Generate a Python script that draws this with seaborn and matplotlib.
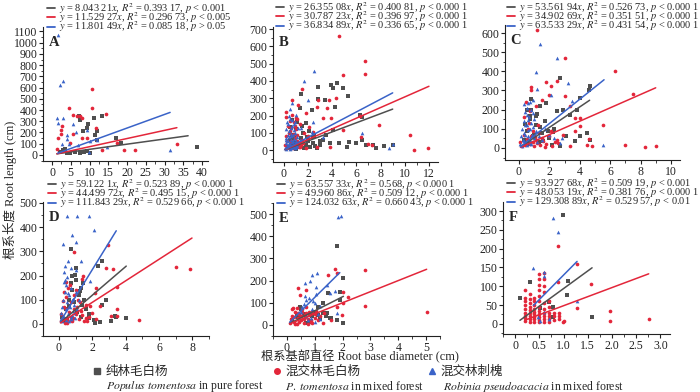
import matplotlib
matplotlib.use("Agg")
import matplotlib.pyplot as plt
from matplotlib.lines import Line2D
from matplotlib.ticker import MultipleLocator, AutoMinorLocator
import seaborn as sns

sns.set_theme(style="ticks")
plt.rcParams['font.family'] = ['Liberation Serif', 'Noto Sans CJK SC']
plt.rcParams['mathtext.fontset'] = 'stix'
plt.rcParams['axes.unicode_minus'] = False

GRAY = '#4f4f4f'
RED = '#e3263a'
BLUE = '#3a63c8'

# ---------------- 数据 ----------------
# A
a_gray_x = [13.4, 11.2, 9.5, 9.2, 8.3, 7.2, 7.5, 3.5, 3.0, 3.9, 4.8, 6.2, 7.5, 9.4, 11.5, 17.0, 18.3, 38.6, 11.9, 12.0, 2.1, 8.4, 10.0]
a_gray_y = [350, 330, 280, 240, 210, 345, 315, 55, 45, 15, 20, 25, 18, 36, 180, 150, 105, 70, 210, 135, 30, 30, 15]
a_red_x = [10.6, 10.6, 4.4, 5.5, 6.6, 8.0, 2.7, 2.4, 2.4, 1.7, 1.4, 4.8, 5.7, 8.1, 9.2, 11.6, 14.3, 13.2, 17.2, 19.2, 22.0, 33.3, 7.5]
a_red_y = [585, 420, 415, 355, 345, 330, 260, 220, 190, 155, 50, 105, 190, 150, 155, 240, 365, 45, 110, 40, 40, 100, 345]
a_blue_x = [1.7, 2.0, 3.0, 1.4, 1.7, 3.0, 3.9, 3.9, 4.4, 5.5, 6.4, 6.9, 9.4, 9.9, 10.1, 14.6, 31.5, 2.7, 11.9]
a_blue_y = [1070, 620, 660, 330, 285, 330, 180, 140, 96, 280, 200, 90, 225, 30, 120, 75, 45, 100, 130]

# B
b_gray_x = [4.4, 3.9, 4.1, 4.9, 2.8, 1.4, 2.8, 3.4, 5.3, 2.3, 1.3, 4.2, 6.3, 6.5, 6.0, 6.5, 7.4, 7.6, 8.3, 9.0, 5.4, 4.6,
            3.8, 3.2, 2.4, 5.2, 4.1, 3.5, 0.5, 0.7, 1.8, 3.0, 6.8,
            0.3, 0.5, 0.7, 0.9, 1.0, 1.2, 1.4, 1.6, 1.8, 2.0, 2.2, 2.5, 2.7, 3.0, 1.1, 1.3, 1.5, 1.7, 1.9, 2.1, 2.4, 2.6, 0.8, 0.6, 1.0]
b_gray_y = [387, 377, 358, 358, 364, 323, 296, 290, 315, 232, 242, 251, 203, 193, 39, 58, 29, 10, 25, 29, 48, 39,
            39, 58, 77, 19, 116, 87, 135, 174, 155, 29, 29,
            20, 60, 90, 40, 120, 15, 70, 100, 30, 55, 20, 80, 10, 50, 160, 35, 140, 10, 75, 110, 40, 25, 70, 30, 5]
b_red_x = [4.6, 6.7, 6.7, 4.9, 1.5, 2.8, 4.3, 3.7, 3.6, 2.7, 0.2, 6.3, 7.9, 4.9, 6.4, 10.4, 10.8, 11.9, 7.0, 7.3, 3.9, 3.2,
           1.8, 2.4, 0.7, 1.0, 1.2, 3.8, 2.7, 2.1, 1.7,
           0.1, 0.2, 0.3, 0.35, 0.4, 0.5, 0.55, 0.6, 0.7, 0.75, 0.8, 0.9, 1.0, 1.1, 1.2, 1.3, 1.4, 1.5, 0.25, 0.45, 0.65,
           0.85, 1.05, 1.25, 0.15, 0.6, 0.95, 1.35, 0.5, 0.8, 1.1, 1.6, 1.8, 2.0]
b_red_y = [658, 518, 441, 437, 356, 290, 300, 290, 242, 248, 222, 197, 143, 116, 73, 87, 0, 14, 33, 29, 184, 184,
           213, 106, 290, 184, 261, 19, 19, 135, 97,
           30, 80, 140, 20, 100, 170, 50, 130, 205, 10, 160, 70, 120, 90, 40, 150, 30, 60, 55, 10, 85,
           25, 180, 15, 190, 45, 140, 20, 110, 95, 55, 40, 10, 80]
b_blue_x = [2.5, 1.7, 2.0, 0.7, 0.5, 1.0, 2.4, 6.5, 8.7, 9.0, 2.3, 3.2, 1.8, 0.2, 1.4, 0.9,
            0.1, 0.15, 0.2, 0.2, 0.25, 0.3, 0.3, 0.35, 0.4, 0.4, 0.45, 0.5, 0.5, 0.55, 0.6, 0.6, 0.65, 0.7, 0.7, 0.75,
            0.8, 0.8, 0.85, 0.9, 0.95, 1.0, 1.05, 1.1, 1.2, 1.3, 0.2, 0.3, 0.4, 0.5, 0.6, 0.7, 0.8, 0.9, 1.0, 0.25,
            0.45, 0.65, 0.85, 1.15, 0.35, 0.55, 0.75]
b_blue_y = [458, 400, 290, 271, 236, 203, 160, 97, 14, 35, 106, 77, 58, 58, 126, 164,
            10, 40, 70, 120, 25, 90, 150, 55, 15, 110, 75, 35, 180, 130, 60, 95, 20, 140, 45, 85,
            30, 115, 65, 10, 100, 50, 75, 25, 40, 60, 5, 20, 35, 5, 10, 25, 15, 35, 20, 160,
            195, 175, 150, 130, 30, 80, 50]

# C
c_gray_x = [2.7, 4.7, 4.6, 4.05, 3.8, 3.35, 2.9, 2.5, 1.8, 1.37, 1.15, 4.05, 4.7, 3.1, 3.7, 2.7, 4.45, 2.25, 0.7, 0.5,
            0.3, 0.5, 0.7, 0.9, 1.1, 1.3, 1.5, 1.7, 2.0, 2.3, 0.6, 0.8, 1.0, 1.2, 1.4, 1.6, 1.9, 2.2, 0.4, 0.8]
c_gray_y = [365, 325, 304, 261, 200, 174, 200, 191, 235, 217, 165, 61, 43, 61, 35, 9, 78, 82, 165, 200,
            40, 90, 150, 60, 120, 30, 80, 140, 50, 100, 20, 200, 70, 175, 110, 35, 90, 15, 125, 255]
c_red_x = [1.19, 3.0, 6.3, 7.5, 2.5, 1.76, 0.77, 0.77, 2.1, 2.0, 1.5, 1.1, 3.0, 3.35, 3.7, 4.05, 4.0, 5.5, 3.7, 2.9,
           2.5, 3.35, 4.45, 4.8, 8.3, 9.0, 7.0, 4.6,
           0.1, 0.2, 0.3, 0.4, 0.5, 0.6, 0.7, 0.8, 0.9, 1.0, 1.1, 1.2, 1.3, 1.4, 1.5, 1.6, 1.8, 2.0, 2.2, 2.4,
           0.35, 0.65, 0.95, 1.25, 1.7, 2.1, 2.6, 0.45, 0.75, 1.05]
c_red_y = [618, 470, 400, 282, 348, 343, 318, 301, 325, 278, 252, 217, 270, 217, 157, 157, 113, 118, 87, 70,
           43, 9, 17, 9, 5, 9, 14, 47,
           30, 10, 70, 15, 45, 100, 20, 60, 30, 10, 40, 25, 80, 15, 50, 35, 20, 60, 10, 30,
           160, 130, 90, 120, 5, 90, 25, 240, 195, 55]
c_blue_x = [1.37, 2.5, 1.1, 1.2, 3.2, 2.1, 3.5, 5.5, 2.8, 2.7, 0.9, 0.6,
            0.1, 0.15, 0.2, 0.25, 0.3, 0.35, 0.4, 0.45, 0.5, 0.55, 0.6, 0.65, 0.7, 0.75, 0.8, 0.85, 0.9, 1.0, 1.1,
            1.2, 0.2, 0.3, 0.4, 0.5, 0.6, 0.7, 0.8, 0.9, 0.3, 0.5, 0.7, 0.4, 0.6, 0.8, 1.0, 1.3, 1.5, 1.7, 2.0, 2.3]
c_blue_y = [544, 470, 395, 308, 339, 277, 247, 14, 52, 26, 252, 235,
            20, 60, 100, 40, 140, 80, 190, 30, 120, 210, 60, 160, 100, 40, 130, 70, 180, 50, 90,
            30, 10, 35, 65, 15, 95, 25, 200, 110, 230, 170, 240, 120, 145, 20, 150, 60, 40, 100, 70, 50]

# D
d_gray_x = [0.7, 2.6, 2.35, 0.95, 1.45, 2.6, 4.04, 3.35, 2.45, 2.1, 1.25, 2.85, 2.15, 3.1, 3.4, 1.8,
            0.2, 0.4, 0.6, 0.8, 1.0, 1.2, 1.4, 1.6, 1.8, 0.5, 0.7, 0.9, 1.1, 1.3, 1.5, 0.3, 0.8, 1.0, 1.3, 0.6]
d_gray_y = [310, 262, 238, 204, 169, 79, 25, 32, 7, 18, 135, 100, 3, 10, 28, 23,
            30, 60, 100, 140, 180, 120, 80, 60, 40, 20, 170, 90, 50, 150, 100, 10, 200, 230, 30, 75]
d_red_x = [2.95, 0.9, 7.0, 7.86, 3.24, 2.85, 1.4, 3.5, 2.25, 3.5, 3.5, 3.1, 4.8, 1.65, 2.45, 1.85, 2.15, 1.45,
           0.1, 0.15, 0.2, 0.3, 0.35, 0.4, 0.5, 0.55, 0.6, 0.7, 0.75, 0.8, 0.9, 1.0, 1.1, 1.2, 1.3, 1.4, 1.5,
           1.6, 1.8, 2.0, 0.25, 0.45, 0.65, 0.85, 1.05, 1.25, 0.3, 0.5, 0.7, 0.9, 1.15, 1.7, 2.2, 0.4]
d_red_y = [328, 296, 236, 229, 229, 230, 186, 152, 149, 60, 32, 34, 15, 25, 73, 73, 128, 197,
           10, 40, 20, 70, 5, 110, 15, 150, 50, 30, 90, 10, 120, 40, 70, 20, 55, 35, 10,
           80, 30, 45, 95, 60, 160, 25, 140, 90, 130, 5, 15, 60, 100, 10, 20, 175]
d_blue_x = [0.46, 1.1, 1.8, 2.1, 0.8, 1.0, 0.26, 1.35, 0.3, 0.36, 1.05, 1.85, 0.56, 0.86,
            0.1, 0.15, 0.2, 0.25, 0.3, 0.35, 0.4, 0.45, 0.5, 0.55, 0.6, 0.65, 0.7, 0.75, 0.8, 0.85, 0.9, 0.95,
            1.0, 1.1, 0.2, 0.3, 0.4, 0.5, 0.6, 0.7, 0.8, 0.9, 0.35, 0.55, 0.75, 1.2]
d_blue_y = [445, 445, 448, 390, 369, 339, 332, 259, 213, 183, 222, 176, 128, 103,
            20, 45, 70, 100, 30, 130, 60, 160, 90, 40, 120, 70, 150, 30, 100, 55, 80, 25,
            130, 60, 10, 175, 15, 195, 10, 20, 35, 45, 240, 260, 230, 100]

# E
e_gray_x = [1.81, 2.03, 1.49, 1.31, 1.9, 1.43, 1.55, 2.03, 1.13, 0.89, 0.47, 0.35, 1.9,
            0.2, 0.4, 0.6, 0.8, 1.0, 1.2, 1.4, 0.5, 0.7, 0.9, 1.1, 1.3, 1.6, 1.8]
e_gray_y = [357, 211, 143, 98, 113, 53, 30, 8, 45, 38, 83, 45, 150,
            20, 35, 50, 15, 60, 25, 40, 70, 10, 45, 80, 55, 30, 20]
e_red_x = [2.8, 2.8, 5.02, 1.73, 1.49, 1.81, 0.41, 0.47, 0.7, 2.2, 2.03, 2.03, 1.97, 1.6, 1.34, 1.79, 0.23,
           0.1, 0.15, 0.2, 0.25, 0.3, 0.35, 0.4, 0.45, 0.5, 0.55, 0.6, 0.65, 0.7, 0.75, 0.8, 0.85, 0.9, 1.0,
           1.1, 1.2, 1.3, 0.2, 0.3, 0.4, 0.5, 0.6, 0.7, 0.8, 0.9, 1.0, 0.25, 0.45, 0.65, 0.85, 1.05, 0.35, 0.55, 0.75]
e_red_y = [248, 86, 60, 251, 226, 233, 166, 136, 158, 125, 150, 98, 45, 23, 53, 83, 75,
           10, 25, 40, 15, 60, 5, 30, 50, 20, 70, 10, 35, 55, 25, 45, 15, 60, 30,
           20, 40, 10, 70, 5, 55, 40, 25, 80, 60, 10, 50, 35, 15, 45, 20, 65, 75, 60, 5]
e_blue_x = [1.85, 1.93, 1.07, 0.89, 0.83, 0.65, 1.03, 1.43, 1.73, 0.7, 0.53, 1.55, 1.79, 1.19, 1.0,
            0.5, 0.6, 0.7, 0.8, 0.9, 1.0, 1.1, 1.2, 0.65, 0.85, 1.05, 0.75, 0.95]
e_blue_y = [486, 492, 233, 226, 200, 188, 170, 181, 155, 113, 83, 143, 56, 26, 15,
            60, 95, 40, 120, 70, 100, 50, 85, 130, 30, 140, 20, 110]

# F
f_gray_x = [0.98, 0.3, 0.1, 1.09, 1.07, 1.59, 0.69, 0.78, 0.52, 0.79]
f_gray_y = [289, 110, 69, 113, 76, 19, 59, 17, 41, 46]
f_red_x = [0.88, 1.28, 1.57, 1.28, 0.98, 1.97, 1.97, 2.76, 0.88,
           0.2, 0.2, 0.2, 0.2, 0.2, 0.2, 0.2, 0.2, 0.2,
           0.3, 0.3, 0.3, 0.3, 0.3, 0.3, 0.3, 0.3, 0.3,
           0.4, 0.4, 0.4, 0.4, 0.4, 0.4, 0.4, 0.4, 0.4,
           0.5, 0.5, 0.5, 0.5, 0.5, 0.5, 0.5, 0.5, 0.5, 0.5, 0.5, 0.5,
           0.6, 0.6, 0.6, 0.6, 0.6, 0.6, 0.6, 0.6, 0.6, 0.6,
           0.7, 0.7, 0.7, 0.7, 0.7, 0.7,
           0.8, 0.8, 0.8, 0.9, 0.9, 0.9, 1.0]
f_red_y = [206, 160, 107, 41, 6, 34, 8, 12, 111,
           8, 15, 22, 30, 40, 50, 60, 70, 90,
           6, 12, 20, 28, 36, 45, 55, 65, 80,
           5, 12, 18, 25, 32, 40, 50, 60, 70,
           5, 10, 18, 25, 35, 45, 60, 75, 90, 104, 118, 133,
           6, 14, 22, 30, 40, 55, 85, 100, 120, 135,
           5, 12, 20, 30, 45, 60,
           10, 20, 28, 12, 22, 30, 8]
f_blue_x = [0.79, 0.88, 0.38, 0.59, 0.59, 1.28, 0.59, 0.69, 0.48, 0.52]
f_blue_y = [282, 243, 149, 138, 127, 61, 32, 13, 19, 8]

# 拟合线端点 (x0, x1), (y0, y1)
a_fit = [((1.3, 36.3), (10, 171)), ((1.3, 33.3), (10, 243)), ((1.5, 31.5), (15, 379))]
b_fit = [((0.1, 9.0), (2.6, 237)), ((0.1, 12.0), (3.1, 369)), ((0.1, 9.0), (3.7, 331))]
c_fit = [((0.1, 4.65), (5.4, 249)), ((0.1, 9.0), (3.5, 314)), ((0.1, 5.6), (6.4, 356))]
d_fit = [((0.1, 4.04), (5.9, 239)), ((0.1, 7.98), (4.4, 355)), ((0.1, 3.44), (11.2, 385))]
e_fit = [((0.1, 2.03), (6.4, 129)), ((0.1, 5.02), (5.0, 251)), ((0.1, 1.9), (12.4, 236))]
f_fit = [((0.1, 1.59), (9.4, 149)), ((0.2, 2.76), (9.6, 133)), ((0.38, 1.28), (49, 166))]

a_eq = ["$y$ = 8.043 21$x$, $R^2$ = 0.393 17, $p$ < 0.001",
        "$y$ = 11.529 27$x$, $R^2$ = 0.296 73, $p$ < 0.005",
        "$y$ = 11.801 49$x$, $R^2$ = 0.085 18, $p$ > 0.05"]
b_eq = ["$y$ = 26.355 08$x$, $R^2$ = 0.400 81, $p$ < 0.000 1",
        "$y$ = 30.787 23$x$, $R^2$ = 0.396 97, $p$ < 0.000 1",
        "$y$ = 36.834 89$x$, $R^2$ = 0.336 65, $p$ < 0.000 1"]
c_eq = ["$y$ = 53.561 94$x$, $R^2$ = 0.526 73, $p$ < 0.000 1",
        "$y$ = 34.902 69$x$, $R^2$ = 0.351 51, $p$ < 0.000 1",
        "$y$ = 63.533 29$x$, $R^2$ = 0.431 54, $p$ < 0.000 1"]
d_eq = ["$y$ = 59.122 1$x$, $R^2$ = 0.523 89, $p$ < 0.000 1",
        "$y$ = 44.499 72$x$, $R^2$ = 0.495 15, $p$ < 0.000 1",
        "$y$ = 111.843 29$x$, $R^2$ = 0.529 66, $p$ < 0.000 1"]
e_eq = ["$y$ = 63.557 33$x$, $R^2$ = 0.568, $p$ < 0.000 1",
        "$y$ = 49.960 86$x$, $R^2$ = 0.509 12, $p$ < 0.000 1",
        "$y$ = 124.032 63$x$, $R^2$ = 0.660 43, $p$ < 0.000 1"]
f_eq = ["$y$ = 93.927 68$x$, $R^2$ = 0.509 19, $p$ < 0.001",
        "$y$ = 48.053 19$x$, $R^2$ = 0.381 76, $p$ < 0.000 1",
        "$y$ = 129.308 89$x$, $R^2$ = 0.529 57, $p$ < 0.01"]

legend_cn = ['纯林毛白杨', '混交林毛白杨', '混交林刺槐']
legend_en = ['$\\it{Populus\\ tomentosa}$ in pure forest',
             '$\\it{P.\\ tomentosa}$ in mixed forest',
             '$\\it{Robinia\\ pseudoacacia}$ in mixed forest']

# ---------------- 布局 (像素) ----------------
W, H = 700, 392
panels = [
    # letter, points, fit, eq, axes box (l, t, r, b), xlim, ylim, xmaj, ymaj, legend anchor (x, top)
    ('A', (a_gray_x, a_gray_y, a_red_x, a_red_y, a_blue_x, a_blue_y), a_fit, a_eq,
     (43, 27, 208, 161), (-2.4, 41.6), (-54, 1140), 5, 100, (47, 1)),
    ('B', (b_gray_x, b_gray_y, b_red_x, b_red_y, b_blue_x, b_blue_y), b_fit, b_eq,
     (273, 27, 438, 162), (-0.9, 12.75), (-69, 712), 2, 100, (276, 0)),
    ('C', (c_gray_x, c_gray_y, c_red_x, c_red_y, c_blue_x, c_blue_y), c_fit, c_eq,
     (505, 25, 680, 160), (-0.92, 10.6), (-63, 642), 2, 100, (507, 0)),
    ('D', (d_gray_x, d_gray_y, d_red_x, d_red_y, d_blue_x, d_blue_y), d_fit, d_eq,
     (43, 202, 209, 336), (-0.95, 9.0), (-50, 504), 2, 100, (48, 177)),
    ('E', (e_gray_x, e_gray_y, e_red_x, e_red_y, e_blue_x, e_blue_y), e_fit, e_eq,
     (273, 203, 440, 336), (-0.5, 5.5), (-50, 550), 1, 100, (277, 177)),
    ('F', (f_gray_x, f_gray_y, f_red_x, f_red_y, f_blue_x, f_blue_y), f_fit, f_eq,
     (503, 202, 670, 334), (-0.25, 3.2), (-27, 324), 0.5, 50, (507, 176)),
]

colors = [GRAY, RED, BLUE]
markers = ['s', 'o', '^']

fig = plt.figure(figsize=(W / 100, H / 100), dpi=100)

for letter, pts, fit, eqs, box, xlim, ylim, xmaj, ymaj, leg in panels:
    l, t, r, b = box
    ax = fig.add_axes([l / W, 1 - b / H, (r - l) / W, (b - t) / H])
    for k in range(3):
        sns.scatterplot(x=pts[2 * k], y=pts[2 * k + 1], ax=ax, color=colors[k], marker=markers[k],
                        s=7, linewidth=0, zorder=2 + k)
    for k in range(3):
        ax.plot(fit[k][0], fit[k][1], color=colors[k], lw=1.1, zorder=6)
    ax.set_xlim(*xlim)
    ax.set_ylim(*ylim)
    ax.xaxis.set_major_locator(MultipleLocator(xmaj))
    ax.yaxis.set_major_locator(MultipleLocator(ymaj))
    ax.xaxis.set_minor_locator(AutoMinorLocator(2))
    ax.yaxis.set_minor_locator(AutoMinorLocator(2))
    ax.tick_params(which='major', direction='out', length=3, width=0.8, labelsize=8.5, pad=1, colors='#222222')
    ax.tick_params(which='minor', direction='out', length=1.8, width=0.6, colors='#222222')
    if letter == 'F':
        ax.set_xticks([0, 0.5, 1.0, 1.5, 2.0, 2.5, 3.0])
        ax.set_xticklabels(['0', '0.5', '1.0', '1.5', '2.0', '2.5', '3.0'])
    sns.despine(ax=ax)
    for sp in ['left', 'bottom']:
        ax.spines[sp].set_linewidth(0.8)
        ax.spines[sp].set_color('#222222')
    ax.set_xlabel('')
    ax.set_ylabel('')
    ax.annotate(letter, xy=(0, 1), xycoords='axes fraction', xytext=(4, -11.5), textcoords='offset points',
                fontsize=10.5, fontweight='bold', ha='left', va='center')
    handles = [Line2D([], [], color=c, lw=1.3) for c in colors]
    ax.legend(handles, eqs, loc='upper left', bbox_to_anchor=(leg[0] / W, 1 - leg[1] / H),
              bbox_transform=fig.transFigure, frameon=False, fontsize=7.5, handlelength=0.8,
              handletextpad=0.35, labelspacing=-0.55, borderpad=0, borderaxespad=0)

fig.text(10 / W, 1 - 190 / H, '根系长度 Root length (cm)', rotation=90, ha='center', va='center', fontsize=9)
fig.text(360 / W, 1 - 357 / H, '根系基部直径 Root base diameter (cm)', ha='center', va='center', fontsize=8.8)

# 底部图例
mk_x = [97, 277, 432]
en_x = [106, 285, 443]
for k in range(3):
    h = Line2D([], [], color=colors[k], marker=markers[k], linestyle='', markersize=4)
    lg = fig.legend([h], [legend_cn[k]], loc='center left', bbox_to_anchor=((mk_x[k] - 4) / W, 1 - 372 / H),
                    frameon=False, fontsize=9, handlelength=0.6, handletextpad=0.4, borderpad=0, borderaxespad=0)
    fig.text(en_x[k] / W, 1 - 386 / H, legend_en[k], ha='left', va='center', fontsize=8.5)

fig.savefig('out.png', dpi=100)
